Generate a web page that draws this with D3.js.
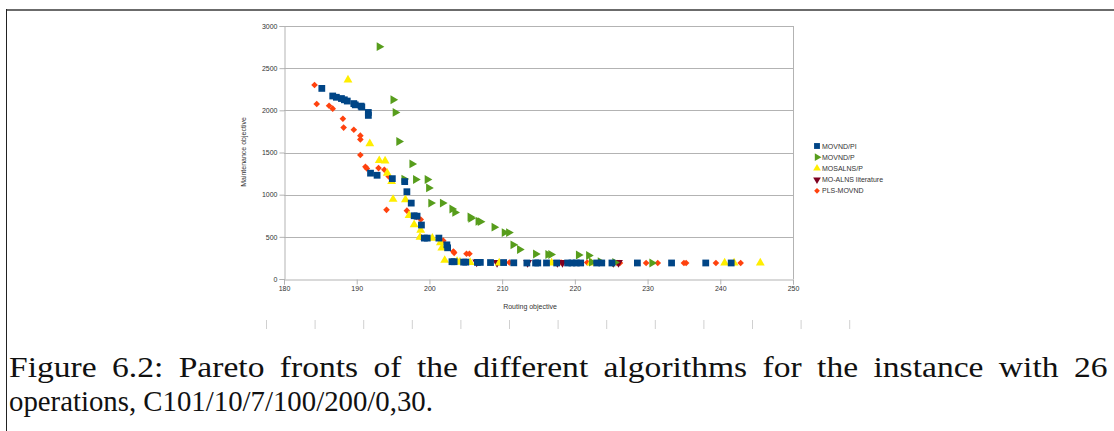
<!DOCTYPE html>
<html>
<head>
<meta charset="utf-8">
<script src="https://cdn.jsdelivr.net/npm/d3@7"></script>
<style>
  body { margin: 0; background: #fff; }
  svg { display: block; }
  .tick text { font-family: "Liberation Sans", Arial, sans-serif; font-size: 7px; fill: #333; }
</style>
</head>
<body>
<svg id="chart"></svg>
<script>
// Series values: [routing, maintenance]
const movndPI = [
  [185.2, 2260], [186.7, 2170], [187.2, 2155], [187.9, 2140], [188.3, 2125], [188.7, 2110],
  [189.6, 2080], [189.8, 2065], [190.6, 2050], [190.7, 2040], [191.6, 1975], [191.6, 1940],
  [191.9, 1255], [192.8, 1230], [194.9, 1190], [196.6, 1155], [196.9, 1035], [197.5, 900],
  [197.9, 750], [198.3, 745], [198.9, 640], [199.3, 485], [199.7, 485], [201.3, 485],
  [202.4, 405], [202.5, 370], [203.1, 205], [203.4, 205], [204.7, 200], [205.0, 200],
  [206.6, 197], [207.0, 197], [208.4, 195], [210.2, 195], [211.6, 192], [213.4, 190],
  [214.6, 190], [214.9, 190], [216.1, 190], [217.5, 190], [219.0, 190], [219.6, 190],
  [220.2, 190], [220.8, 190], [223.0, 190], [223.7, 190], [225.1, 190], [228.6, 190],
  [233.3, 190], [238.0, 190], [241.5, 190]
];
const movndP = [
  [193.1, 2755], [195.0, 2125], [195.3, 1975], [195.8, 1630], [197.6, 1365], [196.5, 1185],
  [198.1, 1180], [199.7, 1180], [199.9, 1080], [200.2, 900], [201.8, 900], [203.1, 830],
  [203.5, 790], [205.6, 735], [205.7, 720], [206.7, 685], [207.0, 680], [208.9, 615],
  [210.3, 550], [210.9, 550], [211.5, 405], [212.4, 350], [214.6, 296], [216.3, 290],
  [216.7, 290], [220.5, 285], [221.9, 278], [222.3, 200], [223.5, 205], [225.5, 195],
  [230.6, 190]
];
const mosalnsP = [
  [188.8, 2360], [191.8, 1605], [193.1, 1405], [193.9, 1400], [194.2, 1255], [194.8, 1157],
  [195.0, 945], [196.7, 940], [197.2, 755], [197.9, 645], [198.8, 580], [198.7, 495],
  [200.4, 485], [201.5, 430], [201.7, 367], [202.1, 222], [203.8, 210], [204.2, 200],
  [205.6, 197], [209.6, 190], [216.8, 190], [222.2, 190], [240.6, 190], [241.9, 190],
  [245.5, 190]
];
const moAlnsLit = [
  [206.5, 200], [209.3, 195], [213.5, 195], [217.6, 195], [218.3, 195], [225.3, 195], [226.0, 195]
];
const plsMovnd = [
  [184.2, 2300], [184.5, 2075], [186.2, 2055], [186.7, 2020], [188.1, 1900], [188.2, 1795],
  [189.6, 1770], [190.5, 1700], [190.5, 1655], [190.5, 1470], [191.2, 1330], [191.4, 1310],
  [193.0, 1315], [193.8, 1295], [194.4, 1215], [194.1, 820], [196.9, 810], [197.9, 750],
  [198.2, 735], [198.8, 705], [198.8, 500], [201.9, 455], [203.3, 325], [203.4, 310],
  [205.1, 300], [205.5, 300], [209.6, 195], [211.0, 195], [218.1, 195], [221.7, 195],
  [225.8, 190], [226.2, 190], [229.8, 190], [231.4, 190], [235.0, 190], [235.3, 190],
  [239.4, 190], [242.8, 190]
];

const xTicks = [180, 190, 200, 210, 220, 230, 240, 250];
const yTicks = [0, 500, 1000, 1500, 2000, 2500, 3000];
const seriesNames = ["MOVND/PI", "MOVND/P", "MOSALNS/P", "MO-ALNS literature", "PLS-MOVND"];
const captionLines = [
  "Figure 6.2: Pareto fronts of the different algorithms for the instance with 26",
  "operations, C101/10/7/100/200/0,30."
];

const W = 1114, H = 431;
const margin = { top: 26, left: 284 };
const width = 793 - 284;
const height = 279 - 26;

const svg = d3.select("#chart").attr("width", W).attr("height", H);

// page frame bits
svg.append("line").attr("x1", 6).attr("x2", W).attr("y1", 10).attr("y2", 10)
  .attr("stroke", "#6b6b6b").attr("stroke-width", 2);
svg.append("line").attr("x1", 6.5).attr("x2", 6.5).attr("y1", 9).attr("y2", H)
  .attr("stroke", "#222").attr("stroke-width", 1);

// faint ruler ticks under the chart
svg.append("g").selectAll("line")
  .data(d3.range(13))
  .join("line")
  .attr("x1", (i) => 266.5 + i * 48.6).attr("x2", (i) => 266.5 + i * 48.6)
  .attr("y1", 320).attr("y2", 329)
  .attr("stroke", "#d0d0d0");

const g = svg.append("g").attr("transform", `translate(${margin.left},${margin.top})`);

const x = d3.scaleLinear().domain([180, 250]).range([0, width]);
const y = d3.scaleLinear().domain([0, 3000]).range([height, 0]);

// grid
g.append("g").selectAll("line")
  .data(yTicks.slice(1))
  .join("line")
  .attr("x1", 0).attr("x2", width)
  .attr("y1", (d) => Math.round(y(d)) + 0.5).attr("y2", (d) => Math.round(y(d)) + 0.5)
  .attr("stroke", "#b3b3b3");
g.append("line").attr("x1", width + 0.5).attr("x2", width + 0.5).attr("y1", 0).attr("y2", height)
  .attr("stroke", "#b3b3b3");

// axes
const xAxis = g.append("g")
  .attr("transform", `translate(0,${height + 0.5})`)
  .call(d3.axisBottom(x).tickValues(xTicks).tickSize(5).tickPadding(2).tickFormat(d3.format("d")));
const yAxis = g.append("g")
  .attr("transform", "translate(0.5,0)")
  .call(d3.axisLeft(y).tickValues(yTicks).tickSize(5).tickPadding(2).tickFormat(d3.format("d")));
[xAxis, yAxis].forEach((a) => {
  a.select(".domain").attr("stroke", "#b3b3b3");
  a.selectAll(".tick line").attr("stroke", "#b3b3b3");
});

// axis titles
svg.append("text")
  .attr("x", 530).attr("y", 309)
  .attr("text-anchor", "middle")
  .attr("font-family", "Liberation Sans, Arial, sans-serif").attr("font-size", 7)
  .attr("fill", "#333")
  .text("Routing objective");
svg.append("text")
  .attr("transform", "translate(246,152) rotate(-90)")
  .attr("text-anchor", "middle")
  .attr("font-family", "Liberation Sans, Arial, sans-serif").attr("font-size", 7)
  .attr("fill", "#333")
  .text("Maintenance objective");

// marker styles per series
const styles = [
  { color: "#004586", type: d3.symbolSquare, size: 46, rot: 0 },
  { color: "#579d1c", type: d3.symbolTriangle, size: 34, rot: 90 },
  { color: "#ffee00", type: d3.symbolTriangle, size: 34, rot: 0 },
  { color: "#7e0021", type: d3.symbolTriangle, size: 34, rot: 180 },
  { color: "#ff420e", type: d3.symbolSquare, size: 22, rot: 45 }
];
const allSeries = [movndPI, movndP, mosalnsP, moAlnsLit, plsMovnd];

// draw order: red first, blue on top
[4, 3, 2, 1, 0].forEach((k) => {
  const s = styles[k];
  g.append("g").selectAll("path")
    .data(allSeries[k])
    .join("path")
    .attr("d", d3.symbol(s.type, s.size))
    .attr("transform", (d) => `translate(${x(d[0])},${y(d[1])}) rotate(${s.rot})`)
    .attr("fill", s.color);
});

// legend
const legend = svg.append("g").attr("transform", "translate(817,146)");
seriesNames.forEach((name, i) => {
  const s = styles[i];
  const row = legend.append("g").attr("transform", `translate(0,${i * 11.2})`);
  row.append("path")
    .attr("d", d3.symbol(s.type, s.size * 0.75))
    .attr("transform", `rotate(${s.rot})`)
    .attr("fill", s.color);
  row.append("text")
    .attr("x", 5).attr("y", 2.5)
    .attr("font-family", "Liberation Sans, Arial, sans-serif").attr("font-size", 7)
    .attr("fill", "#333")
    .text(name);
});

// caption: first line is justified to the full text width (LaTeX style),
// partly by word spacing and partly by widening the glyphs
captionLines.forEach((line, i) => {
  const t = svg.append("text")
    .attr("x", 0).attr("y", 0)
    .attr("transform", `translate(9,${377 + i * 34})`)
    .attr("font-family", "'Liberation Serif', 'Times New Roman', serif")
    .attr("font-size", 28.8)
    .attr("fill", "#111")
    .text(line);
  if (i === 0) {
    t.style("word-spacing", "6px");
    const sx = 1099 / t.node().getComputedTextLength();
    t.attr("transform", `translate(9,377) scale(${sx},1)`);
  }
});
</script>
</body>
</html>
